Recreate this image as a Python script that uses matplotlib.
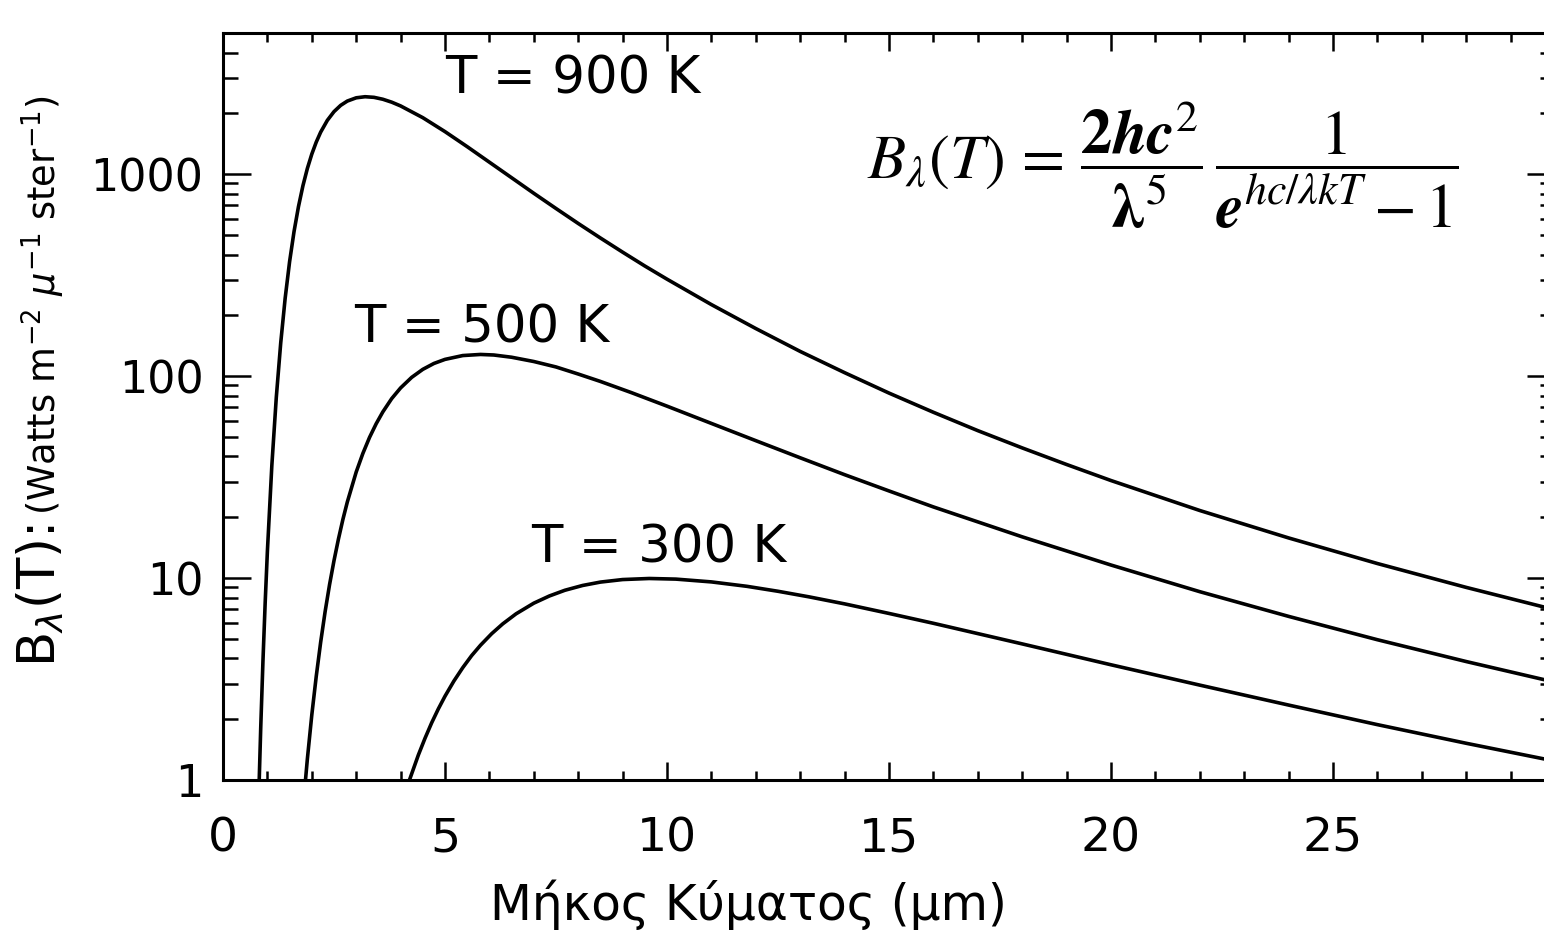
import numpy as np
import matplotlib
matplotlib.use("Agg")
import matplotlib.pyplot as plt
from matplotlib.ticker import LogLocator, NullFormatter, MultipleLocator

# wavelength (um) and B_lambda (W m^-2 um^-1 sr^-1) for each curve
wl_900 = [0.80, 0.85, 0.90, 0.95, 1.0, 1.1, 1.2, 1.3, 1.4, 1.5, 1.6, 1.7, 1.8, 1.9, 2.0,
          2.1, 2.2, 2.35, 2.5, 2.65, 2.8, 3.0, 3.2, 3.4, 3.6, 3.8, 4.0, 4.5, 5, 5.5, 6,
          6.5, 7, 7.5, 8, 8.5, 9, 9.5, 10, 11, 12, 13, 14, 15, 16, 17, 18, 19, 20, 22,
          24, 26, 28, 30]
b_900 = [0.76, 1.82, 3.89, 7.56, 13.6, 36.1, 78.3, 146, 243, 369, 520, 691, 876, 1067, 1257,
         1441, 1615, 1847, 2040, 2191, 2301, 2388, 2418, 2401, 2349, 2272, 2177, 1904, 1624,
         1368, 1146, 960, 804, 676, 570, 483, 411, 351, 302, 226, 172, 132.5, 104, 82.4,
         66.2, 53.7, 44.1, 36.5, 30.4, 21.6, 15.8, 11.8, 8.99, 6.96]

wl_500 = [1.8, 1.9, 2.0, 2.1, 2.2, 2.3, 2.4, 2.5, 2.6, 2.7, 2.8, 3.0, 3.15, 3.3, 3.45, 3.6,
          3.8, 4.0, 4.25, 4.5, 4.75, 5.0, 5.4, 5.8, 6.1, 6.5, 7.0, 7.5, 8.0, 8.5, 9.2, 10,
          11, 12, 13, 14, 15, 16, 18, 20, 22, 24, 26, 28, 30]
b_500 = [0.72, 1.27, 2.10, 3.26, 4.82, 6.82, 9.28, 12.2, 15.6, 19.5, 23.8, 33.5, 41.4, 49.7,
         58.1, 66.5, 77.4, 87.4, 98.6, 108, 115.5, 121, 126.4, 128, 127.2, 124, 118.1, 111,
         102.4, 94.1, 82.8, 71.0, 58.3, 47.9, 39.4, 32.5, 27.0, 22.5, 16.0, 11.6, 8.56, 6.46,
         4.95, 3.86, 3.05]

wl_300 = [4.0, 4.1, 4.2, 4.4, 4.55, 4.7, 4.85, 5.0, 5.2, 5.4, 5.6, 5.8, 6.05, 6.3, 6.6, 7.0,
          7.35, 7.7, 8.1, 8.5, 9.0, 9.6, 10.2, 11, 11.8, 12.5, 13.2, 14, 15, 16, 18, 20, 22,
          24, 26, 28, 30]
b_300 = [0.72, 0.85, 1.00, 1.33, 1.61, 1.92, 2.25, 2.60, 3.09, 3.60, 4.13, 4.65, 5.30, 5.93,
         6.65, 7.51, 8.15, 8.70, 9.19, 9.55, 9.83, 9.95, 9.88, 9.57, 9.10, 8.60, 8.07, 7.45,
         6.68, 5.97, 4.72, 3.72, 2.95, 2.35, 1.88, 1.52, 1.24]

curve_labels = ["T = 900 K", "T = 500 K", "T = 300 K"]
label_pos = [(5.0, 2950), (2.95, 172), (6.95, 14.0)]

xticks = [0, 5, 10, 15, 20, 25]
yticks = [1, 10, 100, 1000]
ytick_labels = ["1", "10", "100", "1000"]

plt.rcParams['font.family'] = ['DejaVu Sans']

fig = plt.figure(figsize=(15.44, 9.31), dpi=100)
fig.patch.set_facecolor("white")
# right spine sits just outside the picture, like the cropped original
ax = fig.add_axes([223/1544, 1 - 780/931, (1555 - 223)/1544, (780 - 33)/931])

for wl, b in [(wl_900, b_900), (wl_500, b_500), (wl_300, b_300)]:
    ax.plot(wl, b, color="black", lw=2.6, solid_joinstyle="round")

ax.set_yscale("log")
ax.set_xlim(0, 30)
ax.set_ylim(1, 5000)

ax.set_xticks(xticks)
ax.set_xticklabels([str(t) for t in xticks])
ax.xaxis.set_minor_locator(MultipleLocator(1))
ax.set_yticks(yticks)
ax.set_yticklabels(ytick_labels)
ax.yaxis.set_minor_locator(LogLocator(base=10, subs=np.arange(2, 10)))
ax.yaxis.set_minor_formatter(NullFormatter())

ax.tick_params(axis="both", which="both", direction="in", top=True, right=True,
               width=1.8, color="black")
ax.tick_params(axis="x", which="major", length=13, labelsize=34, pad=26)
ax.tick_params(axis="x", which="minor", length=6.5)
ax.tick_params(axis="y", which="major", length=20, labelsize=32, pad=14)
ax.tick_params(axis="y", which="minor", length=11)
for sp in ax.spines.values():
    sp.set_linewidth(2.2)

for txt, (x, y) in zip(curve_labels, label_pos):
    ax.text(x, y, txt, fontsize=37, ha="left", va="center")

# Planck formula
fig.text(1163/1544, 1 - 165/931,
         r"$B_{\lambda}(T)\,=\,\dfrac{\mathbf{2}\mathbfit{hc}^{2}}{\boldsymbol{\lambda}^{5}}"
         r"\,\dfrac{1}{\mathbfit{e}^{hc/\lambda kT}-1}$",
         fontsize=45, math_fontfamily="stix", ha="center", va="center")

# axis titles
fig.text(748/1544, 1 - 905/931, "Μήκος Κύματος (μm)", fontsize=35,
         ha="center", va="center")
fig.text(41/1544, 1 - 667/931, r"B$_\lambda$(T):", fontsize=37, rotation=90,
         ha="center", va="bottom")
fig.text(43/1544, 1 - 515/931, r"(Watts m$^{-2}$ $\mu^{-1}$ ster$^{-1}$)", fontsize=26.5,
         rotation=90, ha="center", va="bottom")

fig.savefig("out.png", dpi=100)
